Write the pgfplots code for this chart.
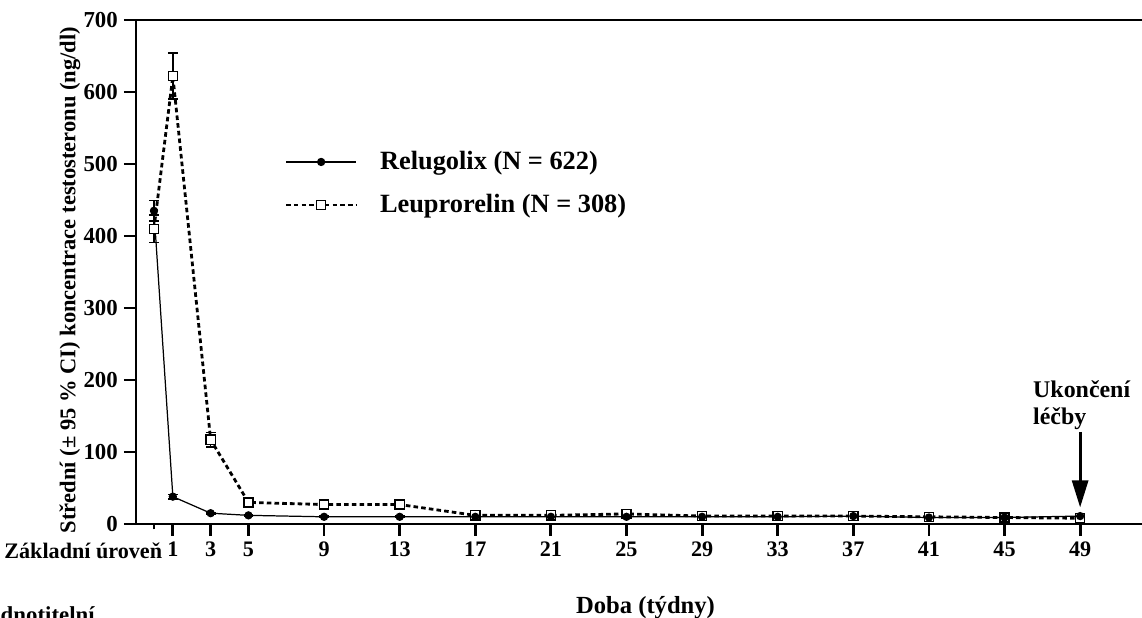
\documentclass[border=0pt]{standalone}
\usepackage{fontspec}
\setmainfont{Liberation Serif}
\usepackage{pgfplots}
\pgfplotsset{compat=1.18}
\usetikzlibrary{arrows.meta}

\begin{document}
\begin{tikzpicture}[x=1cm,y=1cm]
\begin{axis}[
  at={(2.72cm,1.88cm)}, anchor=south west,
  scale only axis, width=20.3cm, height=10.08cm,
  xmin=-0.95, xmax=52.75, ymin=0, ymax=700,
  clip=false,
  axis line style={line width=1.6pt},
  tick align=outside,
  xtick pos=bottom, ytick pos=left,
  xtick={1,3,5,9,13,17,21,25,29,33,37,41,45,49},
  extra x ticks={0}, extra x tick labels={},
  extra x tick style={major tick length=0.11cm},
  ytick={0,100,200,300,400,500,600,700},
  major tick length=0.24cm,
  every tick/.style={black, line width=1.6pt},
  /pgf/number format/assume math mode=true,
  x tick label style={font=\fontsize{12.6}{14}\selectfont\bfseries},
  y tick label style={font=\fontsize{13}{15}\selectfont\bfseries},
  xlabel={Doba (týdny)},
  ylabel={Střední (± 95 \% CI) koncentrace testosteronu (ng/dl)},
  xlabel style={at={(axis description cs:0.502,-0.165)}, anchor=center, font=\fontsize{14}{16}\selectfont\bfseries},
  ylabel style={at={(axis description cs:-0.065,0.484)}, anchor=center, font=\fontsize{12.8}{15}\selectfont\bfseries},
  reverse legend,
  legend style={at={(axis cs:6.9,473)}, anchor=west, draw=none, fill=none,
    inner sep=0pt, row sep=0.3cm, font=\fontsize{15}{17}\selectfont\bfseries,
    cells={anchor=west},
    /tikz/every odd column/.append style={column sep=0.38cm}},
  legend image code/.code={\draw[#1,mark repeat=2,mark phase=2] plot coordinates {(0cm,0cm) (0.7cm,0cm) (1.4cm,0cm)};},
]
% Leuprorelin
\addplot[black, line width=1.6pt, dash pattern=on 2.6pt off 1.8pt,
  mark=square*, mark size=2.6pt, mark options={solid, fill=white, line width=0.8pt},
  error bars/.cd, y dir=both, y explicit,
  error bar style={solid, line width=0.8pt},
  error mark options={rotate=90, mark size=2.8pt, solid, line width=0.8pt}]
  table[x=x, y=y, y error=e] {
x y e
0 410 19
1 622 32
3 117 10
5 30 7
9 27 7
13 27 7
17 12 2
21 12 2
25 14 2
29 11 1.5
33 11 1.5
37 11 1.5
41 10 1.5
45 9 1
49 8 1
};
\addlegendentry{Leuprorelin (N = 308)}
% Relugolix
\addplot[black, line width=0.7pt,
  mark=*, mark size=2pt,
  error bars/.cd, y dir=both, y explicit,
  error bar style={line width=0.8pt},
  error mark options={rotate=90, mark size=2.8pt, line width=0.8pt}]
  table[x=x, y=y, y error=e] {
x y e
0 435 14
1 38 3
3 15 1
5 12 1
9 10 1
13 10 1
17 10 1
21 10 1
25 10 1
29 10 1
33 10 1
37 11 1
41 9 1
45 9 1
49 11 1
};
\addlegendentry{Relugolix (N = 622)}
\node[anchor=east, inner sep=0pt, font=\fontsize{12.6}{14}\selectfont\bfseries] at ([yshift=-0.54cm]axis cs:0.45,0) {Základní úroveň};
\draw[-{Triangle[length=0.54cm,width=0.32cm]}, line width=1.6pt] (axis cs:49,128) -- (axis cs:49,23);
\node[anchor=south west, align=left, inner sep=0pt, font=\fontsize{13.6}{15}\selectfont\bfseries] at (axis cs:46.5,131) {Ukončení\\léčby};
\end{axis}
\node[anchor=base east, inner sep=0pt, font=\fontsize{13}{15}\selectfont\bfseries] at (1.9,-0.1) {Hodnotitelní};
\pgfresetboundingbox
\useasboundingbox (0,0) rectangle (22.84,12.36);
\end{tikzpicture}
\end{document}
